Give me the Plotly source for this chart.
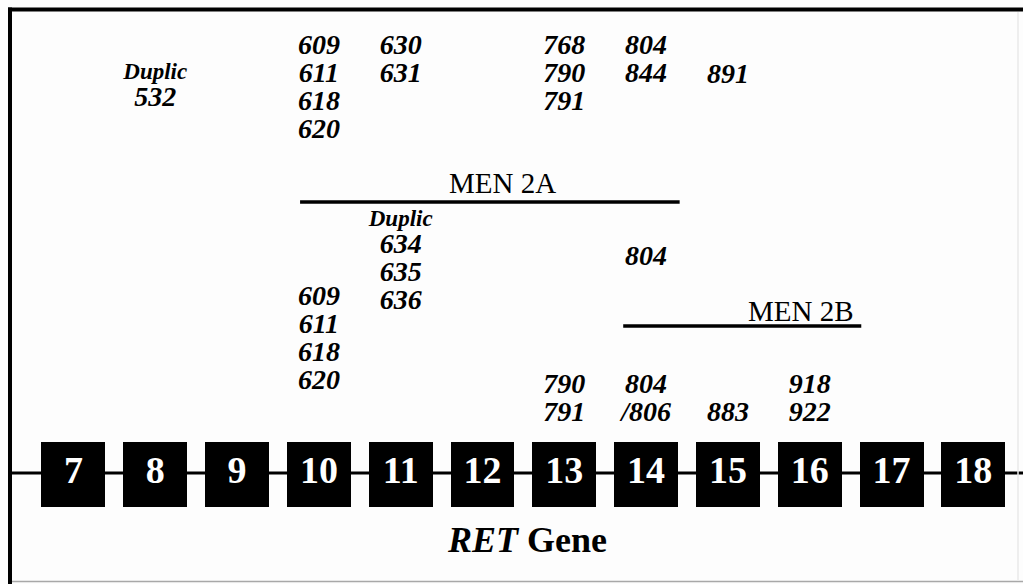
import plotly.graph_objects as go

# ---------------- data ----------------
exons = [7, 8, 9, 10, 11, 12, 13, 14, 15, 16, 17, 18]
exon_labels = [str(e) for e in exons]

# upper block (above the MEN 2A bar)
upper_exons = [8, 10, 11, 13, 14, 15]
upper_codons = [["532"], ["609", "611", "618", "620"], ["630", "631"],
                ["768", "790", "791"], ["804", "844"], ["891"]]
upper_note_exon = 8
upper_note = "Duplic"

# lower block (between MEN 2A bar and the gene)
lower_exons = [10, 11, 13, 14, 15, 16]
lower_codons = [["609", "611", "618", "620"], ["634", "635", "636"],
                ["790", "791"], ["804", "/806"], ["883"], ["918", "922"]]
lower_note_exon = 11
lower_note = "Duplic"
men2b_single_exon = 14
men2b_single = "804"

syndromes = ["MEN 2A", "MEN 2B"]
syndrome_spans = [(9.77, 14.41), (13.72, 16.63)]   # in exon units
gene_name = "RET"

# ---------------- layout constants ----------------
W, H = 1023, 584
X0, X1 = 6.102, 18.607          # exon axis range mapped to full width
BOX_W = 0.782
BOX_TOP, BOX_H = 442, 65
GENE_Y = 473
ROW = 28
upper_first_y = {8: 99, 10: 47, 11: 47, 13: 47, 14: 47, 15: 76}
lower_first_y = {10: 298, 11: 246, 13: 386, 14: 386, 15: 414, 16: 386}
SERIF = "Liberation Serif, Times New Roman, serif"

fig = go.Figure()

# exon boxes
fig.add_trace(go.Bar(
    x=exons, y=[BOX_H] * len(exons), base=BOX_TOP, width=BOX_W,
    marker=dict(color="black", line=dict(width=0)),
    hoverinfo="skip", showlegend=False))

# exon numbers
fig.add_trace(go.Scatter(
    x=exons, y=[BOX_TOP + BOX_H / 2 - 1] * len(exons), mode="text",
    text=exon_labels, textposition="middle center",
    textfont=dict(family=SERIF, size=38, color="white", weight="bold"),
    hoverinfo="skip", showlegend=False))


def codon_trace(ex_list, codon_lists, first_y):
    xs, ys, ts = [], [], []
    for ex, cods in zip(ex_list, codon_lists):
        for i, c in enumerate(cods):
            xs.append(ex)
            ys.append(first_y[ex] + i * ROW)
            ts.append(c)
    return go.Scatter(
        x=xs, y=ys, mode="text", text=ts, textposition="middle center",
        textfont=dict(family=SERIF, size=28, color="black",
                      weight="bold", style="italic"),
        hoverinfo="skip", showlegend=False)


fig.add_trace(codon_trace(upper_exons, upper_codons, upper_first_y))
fig.add_trace(codon_trace(lower_exons, lower_codons, lower_first_y))
fig.add_trace(codon_trace([men2b_single_exon], [[men2b_single]], {14: 258}))

# "Duplic" notes
fig.add_trace(go.Scatter(
    x=[upper_note_exon, lower_note_exon], y=[73, 220], mode="text",
    text=[upper_note, lower_note], textposition="middle center",
    textfont=dict(family=SERIF, size=23, color="black",
                  weight="bold", style="italic"),
    hoverinfo="skip", showlegend=False))

# syndrome bars
bar_y = [202, 326]
for (a, b), yy in zip(syndrome_spans, bar_y):
    fig.add_trace(go.Scatter(
        x=[a, b], y=[yy, yy], mode="lines",
        line=dict(color="black", width=3.5),
        hoverinfo="skip", showlegend=False))

annotations = [
    dict(x=(syndrome_spans[0][0] + syndrome_spans[0][1]) / 2, y=183,
         xref="x", yref="y", text=syndromes[0], showarrow=False,
         xshift=13, xanchor="center", yanchor="middle",
         font=dict(family=SERIF, size=29, color="black")),
    dict(x=syndrome_spans[1][1], y=311, xref="x", yref="y",
         text=syndromes[1], showarrow=False, xshift=-5,
         xanchor="right", yanchor="middle",
         font=dict(family=SERIF, size=29, color="black")),
    dict(x=526.5 / W, y=1 - 540 / H, xref="paper", yref="paper",
         text="<b><i>%s</i> Gene</b>" % gene_name, showarrow=False,
         xanchor="center", yanchor="middle",
         font=dict(family=SERIF, size=36, color="black")),
]

shapes = [
    # gene backbone
    dict(type="line", xref="paper", yref="y", x0=11 / W, x1=1,
         y0=GENE_Y, y1=GENE_Y, line=dict(color="black", width=3),
         layer="below"),
    # frame
    dict(type="line", xref="paper", yref="paper", x0=8 / W, x1=1,
         y0=1 - 9.5 / H, y1=1 - 9.5 / H, line=dict(color="black", width=4)),
    dict(type="line", xref="paper", yref="paper", x0=10 / W, x1=10 / W,
         y0=0, y1=1 - 7.5 / H, line=dict(color="black", width=4)),
    dict(type="line", xref="paper", yref="paper", x0=12 / W, x1=1,
         y0=1 - 581.5 / H, y1=1 - 581.5 / H,
         line=dict(color="#a8a8a8", width=1.5)),
    dict(type="line", xref="paper", yref="paper", x0=1018 / W, x1=1018 / W,
         y0=1 - 581 / H, y1=1 - 12 / H, line=dict(color="#e8e8e8", width=1.5)),
]

fig.update_layout(
    width=W, height=H, margin=dict(l=0, r=0, t=0, b=0),
    paper_bgcolor="#fdfdfd", plot_bgcolor="#fdfdfd",
    xaxis=dict(range=[X0, X1], visible=False, fixedrange=True),
    yaxis=dict(range=[H, 0], visible=False, fixedrange=True),
    annotations=annotations, shapes=shapes, bargap=0,
)

fig.write_html(
    "out.html",
    config={"displayModeBar": False},
    post_script="document.body.style.margin='0';document.body.style.overflow='hidden';",
)
